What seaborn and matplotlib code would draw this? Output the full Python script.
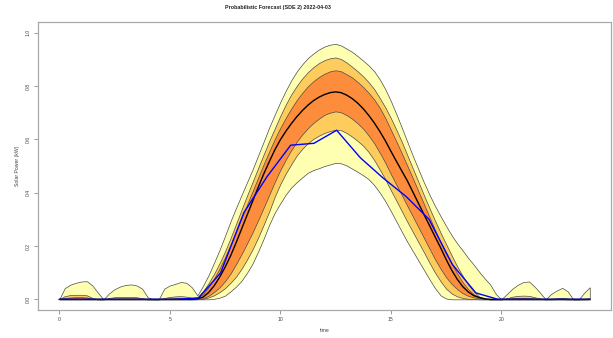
import numpy as np
import pandas as pd
import seaborn as sns
import matplotlib
matplotlib.use("Agg")
import matplotlib.pyplot as plt

# forecast time grid (hours), quarter-hour steps
hours = np.arange(0, 24.001, 0.25)

# quantiles of the probabilistic forecast
q95 = [0.0, 0.042, 0.055, 0.062, 0.067, 0.068, 0.052, 0.025,
       0.0, 0.022, 0.038, 0.048, 0.054, 0.056, 0.052, 0.040,
       0.008, 0.0, 0.0, 0.040, 0.052, 0.058, 0.065, 0.062,
       0.045, 0.015, 0.050, 0.090, 0.137, 0.185, 0.238, 0.293,
       0.343, 0.392, 0.440, 0.488, 0.540, 0.592, 0.645, 0.693,
       0.740, 0.783, 0.822, 0.855, 0.882, 0.905, 0.922, 0.937,
       0.948, 0.955, 0.958, 0.952, 0.940, 0.928, 0.912, 0.895,
       0.877, 0.855, 0.825, 0.788, 0.744, 0.695, 0.643, 0.590,
       0.537, 0.487, 0.438, 0.392, 0.350, 0.312, 0.275, 0.240,
       0.210, 0.183, 0.155, 0.130, 0.103, 0.078, 0.055, 0.020,
       0.0, 0.020, 0.040, 0.055, 0.065, 0.067, 0.048, 0.025,
       0.0, 0.020, 0.033, 0.043, 0.030, 0.0, 0.0, 0.025,
       0.045]

q90 = [0.0, 0.012, 0.016, 0.017, 0.017, 0.015, 0.005, 0.0,
       0.0, 0.005, 0.008, 0.009, 0.009, 0.009, 0.008, 0.004,
       0.0, 0.0, 0.0, 0.005, 0.009, 0.011, 0.012, 0.010,
       0.006, 0.008, 0.030, 0.060, 0.095, 0.135, 0.180, 0.230,
       0.283, 0.337, 0.390, 0.441, 0.493, 0.544, 0.594, 0.641,
       0.688, 0.731, 0.769, 0.801, 0.829, 0.852, 0.871, 0.886,
       0.897, 0.904, 0.907, 0.901, 0.888, 0.872, 0.855, 0.836,
       0.814, 0.788, 0.755, 0.720, 0.680, 0.636, 0.590, 0.540,
       0.490, 0.440, 0.390, 0.342, 0.295, 0.250, 0.207, 0.165,
       0.124, 0.088, 0.055, 0.030, 0.010, 0.003, 0.0, 0.0,
       0.0, 0.004, 0.010, 0.013, 0.014, 0.013, 0.008, 0.003,
       0.0, 0.002, 0.004, 0.005, 0.003, 0.0, 0.0, 0.002,
       0.004]

q75 = [0.0, 0.005, 0.007, 0.008, 0.008, 0.007, 0.002, 0.0,
       0.0, 0.002, 0.003, 0.003, 0.003, 0.003, 0.003, 0.001,
       0.0, 0.0, 0.0, 0.002, 0.003, 0.004, 0.004, 0.004,
       0.003, 0.005, 0.020, 0.045, 0.078, 0.115, 0.158, 0.205,
       0.254, 0.305, 0.356, 0.406, 0.457, 0.507, 0.555, 0.601,
       0.643, 0.681, 0.716, 0.748, 0.775, 0.799, 0.818, 0.834,
       0.846, 0.855, 0.859, 0.855, 0.844, 0.832, 0.815, 0.796,
       0.774, 0.749, 0.718, 0.680, 0.636, 0.592, 0.547, 0.500,
       0.453, 0.405, 0.357, 0.308, 0.260, 0.214, 0.170, 0.135,
       0.097, 0.064, 0.038, 0.019, 0.007, 0.002, 0.0, 0.0,
       0.0, 0.002, 0.004, 0.005, 0.006, 0.005, 0.003, 0.001,
       0.0, 0.0, 0.001, 0.001, 0.0, 0.0, 0.0, 0.0,
       0.001]

q50 = [0.0] * 24 + [
       0.0, 0.002, 0.008, 0.025, 0.050, 0.082, 0.120, 0.163,
       0.212, 0.264, 0.316, 0.368, 0.420, 0.470, 0.516, 0.560,
       0.598, 0.630, 0.659, 0.685, 0.708, 0.728, 0.745, 0.758,
       0.768, 0.775, 0.778, 0.775, 0.766, 0.753, 0.736, 0.715,
       0.690, 0.662, 0.630, 0.595, 0.556, 0.518, 0.481, 0.444,
       0.402, 0.360, 0.318, 0.277, 0.235, 0.194, 0.150, 0.110,
       0.076, 0.048, 0.028, 0.014, 0.007, 0.002, 0.0, 0.0] + [0.0] * 17

q25 = [0.0] * 24 + [
       0.0, 0.001, 0.004, 0.013, 0.027, 0.045, 0.068, 0.097,
       0.132, 0.170, 0.210, 0.252, 0.297, 0.344, 0.392, 0.440,
       0.485, 0.524, 0.560, 0.592, 0.619, 0.642, 0.662, 0.678,
       0.692, 0.700, 0.705, 0.701, 0.691, 0.677, 0.660, 0.640,
       0.614, 0.585, 0.550, 0.512, 0.470, 0.430, 0.390, 0.350,
       0.310, 0.270, 0.230, 0.190, 0.150, 0.115, 0.083, 0.058,
       0.038, 0.023, 0.013, 0.007, 0.004, 0.001, 0.0, 0.0] + [0.0] * 17

q10 = [0.0] * 24 + [
       0.0, 0.0, 0.002, 0.007, 0.015, 0.027, 0.042, 0.062,
       0.085, 0.115, 0.150, 0.188, 0.232, 0.280, 0.330, 0.385,
       0.432, 0.472, 0.507, 0.540, 0.565, 0.586, 0.602, 0.614,
       0.624, 0.631, 0.636, 0.634, 0.624, 0.610, 0.594, 0.576,
       0.552, 0.522, 0.487, 0.450, 0.409, 0.370, 0.330, 0.290,
       0.252, 0.214, 0.176, 0.137, 0.100, 0.068, 0.040, 0.022,
       0.011, 0.005, 0.002, 0.001, 0.0, 0.0, 0.0, 0.0] + [0.0] * 17

q05 = [0.0] * 24 + [
       0.0, 0.0, 0.0, 0.0, 0.002, 0.006, 0.014, 0.030,
       0.048, 0.070, 0.100, 0.135, 0.180, 0.228, 0.280, 0.325,
       0.360, 0.393, 0.420, 0.440, 0.458, 0.475, 0.485, 0.492,
       0.500, 0.506, 0.512, 0.510, 0.502, 0.490, 0.478, 0.465,
       0.450, 0.428, 0.400, 0.368, 0.331, 0.292, 0.253, 0.215,
       0.180, 0.145, 0.110, 0.075, 0.042, 0.015, 0.003, 0.0,
       0.0, 0.0, 0.0, 0.0, 0.0, 0.0, 0.0, 0.0] + [0.0] * 17

# measured solar power
obs_time = [0, 1.05, 2.1, 3.15, 4.2, 5.25, 6.3, 7.3, 8.35, 9.4, 10.47, 11.52,
            12.55, 13.62, 14.65, 15.7, 16.73, 17.79, 18.85, 19.85, 20.9, 21.95, 23.0, 24.0]
obs_power = [0, 0, 0, 0, 0, 0, 0.005, 0.099, 0.325, 0.46, 0.578, 0.585,
             0.634, 0.531, 0.455, 0.385, 0.30, 0.13, 0.024, 0, 0, 0, 0, 0]

fc = pd.DataFrame({"time": hours, "q05": q05, "q10": q10, "q25": q25, "q50": q50,
                   "q75": q75, "q90": q90, "q95": q95})
obs = pd.DataFrame({"time": obs_time, "power": obs_power})

sns.set_style("white")
plt.rcParams["font.family"] = ["Liberation Sans", "DejaVu Sans"]

fig = plt.figure(figsize=(6.13, 3.38), dpi=100)
ax = fig.add_axes([38 / 613, 28 / 338, 573 / 613, 288 / 338])

bands = [("q05", "q95", "#FFFFB2"), ("q10", "q90", "#FECC5C"), ("q25", "q75", "#FD8D3C")]
for lo, hi, col in bands:
    ax.fill_between(fc["time"], fc[lo], fc[hi], facecolor=col,
                    edgecolor="#4a4a4a", linewidth=0.5)

sns.lineplot(data=fc, x="time", y="q50", color="black", linewidth=1.0, ax=ax)
sns.lineplot(data=obs, x="time", y="power", color="#0000FF", linewidth=1.0, ax=ax)

ax.set_xlim(-0.96, 24.96)
ax.set_ylim(-0.04, 1.04)
ax.set_xticks([0, 5, 10, 15, 20])
ax.set_xticklabels(["0", "5", "10", "15", "20"])
ax.set_yticks([0, 0.2, 0.4, 0.6, 0.8, 1.0])
ax.set_yticklabels(["0.0", "0.2", "0.4", "0.6", "0.8", "1.0"], rotation=90, va="center")
ax.tick_params(axis="both", direction="out", length=3, width=0.6, color="#888888",
               labelsize=3.7, labelcolor="#444444", pad=2, left=True, bottom=True)
for s in ax.spines.values():
    s.set_color("#aaaaaa")
    s.set_linewidth(0.9)
ax.set_xlabel("")
ax.set_ylabel("")

fig.text(278 / 613, 1 - 8 / 338, "Probabilistic Forecast (SDE 2) 2022-04-03",
         ha="center", va="center", fontsize=3.9, fontweight="bold", color="#222222")
fig.text(325 / 613, 1 - 331 / 338, "time", ha="center", va="center",
         fontsize=3.7, color="#444444")
fig.text(17 / 613, 1 - 166 / 338, "Solar Power (kW)", ha="center", va="center",
         rotation=90, fontsize=3.7, color="#444444")

fig.savefig("out.png", dpi=100)
